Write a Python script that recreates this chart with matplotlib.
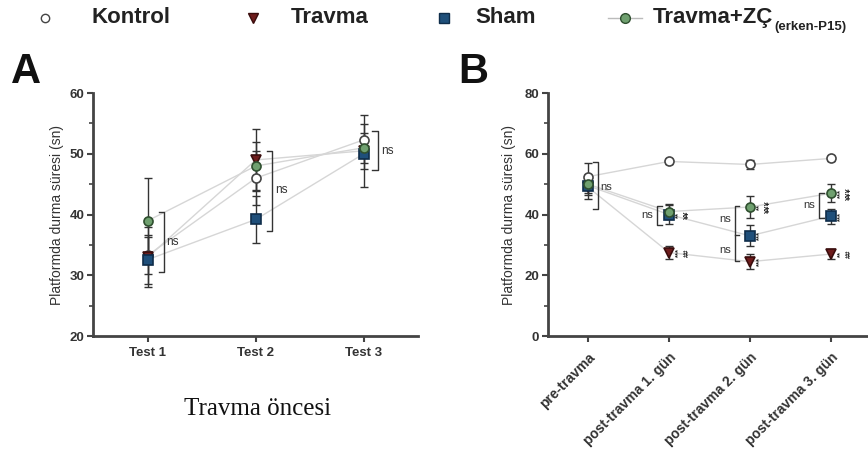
import matplotlib
matplotlib.use("Agg")
import matplotlib.pyplot as plt
from matplotlib.lines import Line2D
from matplotlib.ticker import MultipleLocator

plt.rcParams['font.family'] = ['Liberation Sans', 'DejaVu Sans']

# ---------------- data ----------------
groups = ["Kontrol", "Travma", "Sham", "Travma+ZÇ"]

cats_A = ["Test 1", "Test 2", "Test 3"]
kontrol_A = [33.3, 46.0, 52.3]
travma_A = [33.0, 49.0, 50.5]
sham_A = [32.6, 39.2, 50.0]
zc_A = [39.0, 48.0, 51.0]
kontrol_A_err = [3.0, 4.5, 2.6]
travma_A_err = [5.0, 5.1, 5.9]
sham_A_err = [4.0, 3.8, 2.5]
zc_A_err = [7.1, 4.0, 2.5]

cats_B = ["pre-travma", "post-travma 1. gün", "post-travma 2. gün", "post-travma 3. gün"]
kontrol_B = [52.5, 57.5, 56.5, 58.5]
travma_B = [49.0, 27.5, 24.5, 27.0]
sham_B = [49.5, 40.0, 33.0, 39.5]
zc_B = [50.0, 41.0, 42.5, 47.0]
kontrol_B_err = [4.5, 0.8, 1.6, 0.8]
travma_B_err = [4.0, 2.0, 2.5, 1.6]
sham_B_err = [3.0, 3.0, 3.5, 2.5]
zc_B_err = [3.0, 2.5, 3.6, 3.0]

# ---------------- styles ----------------
styles = {
    "Kontrol": dict(marker='o', mfc='white', mec='#444444', ms=6.5),
    "Travma": dict(marker='v', mfc='#6e1c1c', mec='#3a0d0d', ms=7),
    "Sham": dict(marker='s', mfc='#1f4f7a', mec='#0f2d4a', ms=6.5),
    "Travma+ZÇ": dict(marker='o', mfc='#6fa06f', mec='#2f4f2f', ms=6.5),
}
line_col = '#d6d6d6'
err_col = '#333333'
spine_col = '#444444'

fig = plt.figure(figsize=(8.68, 4.61), dpi=100)
axA = fig.add_axes([0.107, 0.271, 0.374, 0.527])
axB = fig.add_axes([0.631, 0.271, 0.369, 0.527])


def draw(ax, n, series):
    xs = list(range(1, n + 1))
    for name, vals, errs in series:
        ax.plot(xs, vals, color=line_col, lw=1.0, zorder=1)
    for name, vals, errs in series:
        ax.errorbar(xs, vals, yerr=errs, fmt='none', ecolor=err_col, elinewidth=1.0,
                    capsize=3, capthick=1.0, zorder=2)
    for name, vals, errs in series:
        st = styles[name]
        ax.plot(xs, vals, linestyle='none', marker=st['marker'], mfc=st['mfc'],
                mec=st['mec'], ms=st['ms'], mew=1.2, zorder=3)


def style_axes(ax):
    for s in ['top', 'right']:
        ax.spines[s].set_visible(False)
    for s in ['left', 'bottom']:
        ax.spines[s].set_linewidth(2.0)
        ax.spines[s].set_color(spine_col)
    ax.tick_params(axis='both', which='major', length=4, width=1.5, color=spine_col,
                   labelsize=9.5, pad=2)
    ax.tick_params(axis='y', which='minor', length=3, width=1.2, color=spine_col)
    for lab in ax.get_yticklabels() + ax.get_xticklabels():
        lab.set_fontweight('bold')
        lab.set_color('#333333')


def bracket(ax, x, y0, y1, w, side='right'):
    d = -w if side == 'right' else w
    ax.plot([x + d, x, x, x + d], [y1, y1, y0, y0], color=err_col, lw=1.0, zorder=2)


# ---------------- Panel A ----------------
draw(axA, 3, [("Kontrol", kontrol_A, kontrol_A_err), ("Travma", travma_A, travma_A_err),
              ("Sham", sham_A, sham_A_err), ("Travma+ZÇ", zc_A, zc_A_err)])
axA.set_xlim(0.49, 3.5)
axA.set_ylim(20, 60)
axA.set_xticks([1, 2, 3])
axA.set_xticklabels(cats_A)
axA.set_yticks([20, 30, 40, 50, 60])
axA.yaxis.set_minor_locator(MultipleLocator(5))
style_axes(axA)
axA.tick_params(axis='x', pad=4)
axA.set_ylabel("Platformda durma süresi (sn)", fontsize=10, color='#333333', labelpad=4)

ns_kw = dict(fontsize=8.5, va='center', color='#333333')
bracket(axA, 1.15, 30.5, 40.4, 0.05)
axA.text(1.17, 35.5, "ns", ha='left', **ns_kw)
bracket(axA, 2.15, 37.3, 50.5, 0.05)
axA.text(2.18, 44.0, "ns", ha='left', **ns_kw)
bracket(axA, 3.13, 47.4, 53.7, 0.05)
axA.text(3.16, 50.5, "ns", ha='left', **ns_kw)

# ---------------- Panel B ----------------
draw(axB, 4, [("Kontrol", kontrol_B, kontrol_B_err), ("Travma", travma_B, travma_B_err),
              ("Sham", sham_B, sham_B_err), ("Travma+ZÇ", zc_B, zc_B_err)])
axB.set_xlim(0.5, 4.46)
axB.set_ylim(0, 80)
axB.set_xticks([1, 2, 3, 4])
axB.set_xticklabels(cats_B, rotation=45, ha='right', rotation_mode='anchor')
axB.set_yticks([0, 20, 40, 60, 80])
axB.yaxis.set_minor_locator(MultipleLocator(10))
style_axes(axB)
axB.tick_params(axis='x', pad=6)
axB.set_ylabel("Platformda durma süresi (sn)", fontsize=10, color='#333333', labelpad=6)
for lab in axB.get_xticklabels():
    lab.set_fontsize(10)

ns_kw2 = dict(fontsize=8, va='center', color='#333333')
bracket(axB, 1.12, 42.0, 57.3, 0.06)
axB.text(1.15, 49.0, "ns", ha='left', **ns_kw2)
bracket(axB, 1.85, 36.6, 42.8, 0.06, side='left')
axB.text(1.80, 40.0, "ns", ha='right', **ns_kw2)
bracket(axB, 2.81, 24.8, 42.8, 0.06, side='left')
axB.plot([2.81, 2.87], [33.3, 33.3], color=err_col, lw=1.0)
axB.text(2.77, 38.5, "ns", ha='right', **ns_kw2)
axB.text(2.77, 28.5, "ns", ha='right', **ns_kw2)
bracket(axB, 3.85, 39.0, 47.0, 0.06, side='left')
axB.text(3.81, 43.0, "ns", ha='right', **ns_kw2)

sig_kw = dict(fontsize=5.5, rotation=90, va='center', ha='center', color='#222222',
              fontweight='bold')
# significance marks next to markers (post-trauma days)
sig_marks = [
    (2, 40.0, "**", "¥¥"), (2, 27.5, "***", "##"),
    (3, 42.5, "**", "¥¥¥"), (3, 33.0, "***", None), (3, 24.5, "***", None),
    (4, 47.0, "***", "¥¥¥"), (4, 39.5, "***", None), (4, 27.0, "**", "##"),
]
for x, y, s1, s2 in sig_marks:
    axB.text(x + 0.12, y, s1, **sig_kw)
    if s2:
        axB.text(x + 0.23, y, s2, **sig_kw)

# ---------------- panel letters, legend, caption ----------------
fig.text(0.013, 0.80, "A", fontsize=30, fontweight='bold', color='#111111', va='bottom')
fig.text(0.528, 0.80, "B", fontsize=30, fontweight='bold', color='#111111', va='bottom')

leg_y = 0.962
leg_items = [
    (0.052, 0.105, "Kontrol"),
    (0.292, 0.335, "Travma"),
    (0.512, 0.548, "Sham"),
    (0.720, 0.752, "Travma+ZÇ"),
]
fig.canvas.draw()
renderer = fig.canvas.get_renderer()
for mx, tx, key in leg_items:
    st = styles[key]
    if key == "Travma+ZÇ":
        fig.add_artist(Line2D([mx - 0.02, mx + 0.02], [leg_y, leg_y], color='#bbbbbb',
                              lw=1.0, transform=fig.transFigure))
    fig.add_artist(Line2D([mx], [leg_y], linestyle='none', marker=st['marker'],
                          mfc=st['mfc'], mec=st['mec'],
                          ms=7 if key != "Kontrol" else 6, mew=1.0,
                          transform=fig.transFigure))
    t = fig.text(tx, leg_y, key, fontsize=16, fontweight='bold', va='center',
                 ha='left', color='#222222')
    if key == "Travma+ZÇ":
        bb = t.get_window_extent(renderer=renderer)
        x_end = bb.x1 / fig.bbox.width
        fig.text(x_end + 0.002, leg_y - 0.02, "(erken-P15)", fontsize=9.5,
                 fontweight='bold', va='center', ha='left', color='#222222')

fig.text(0.297, 0.113, "Travma öncesi", fontsize=18,
         family=['Liberation Serif', 'DejaVu Serif'],
         ha='center', va='center', color='#111111')

fig.savefig("out.png", dpi=100)
